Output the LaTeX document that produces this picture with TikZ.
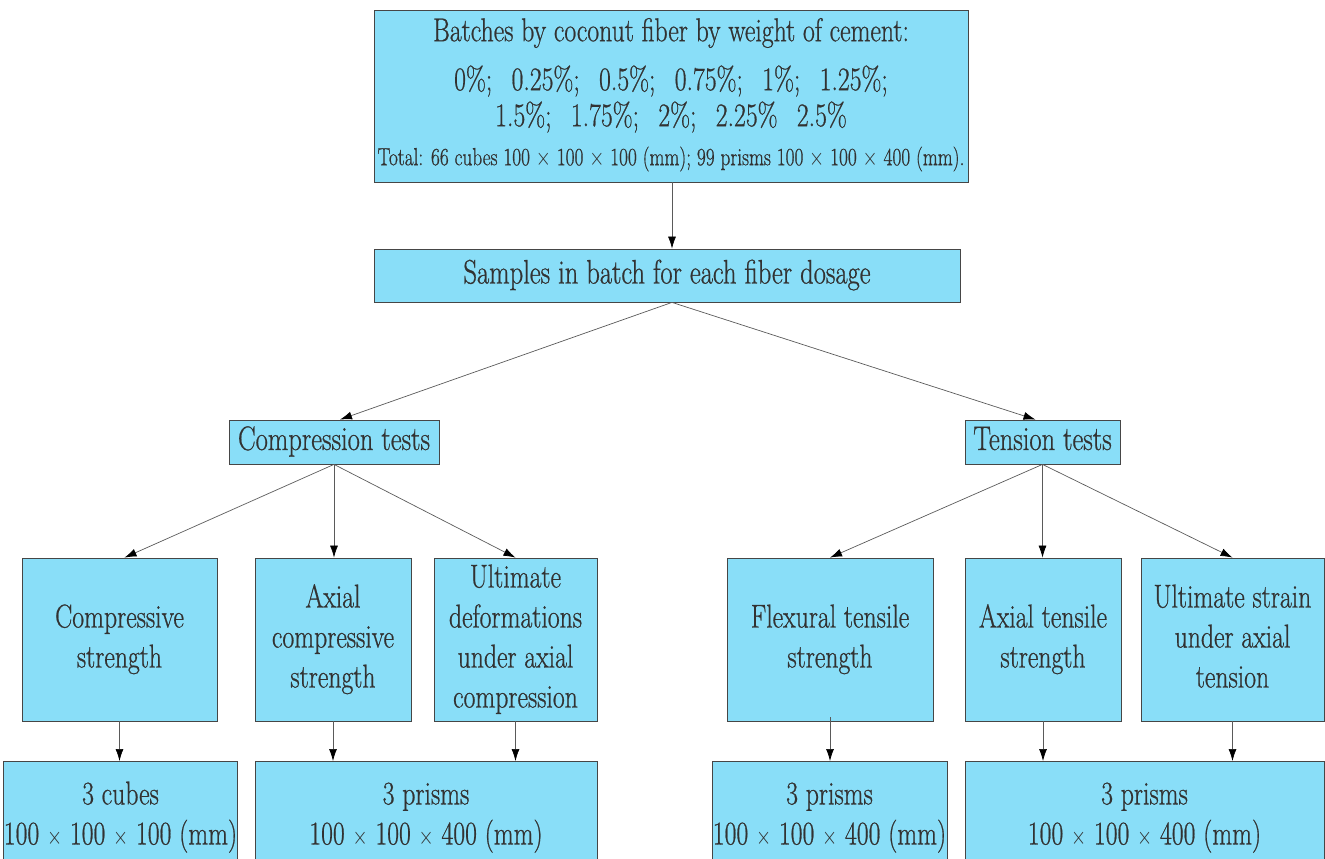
\documentclass[tikz,border=0pt]{standalone}
\usepackage{graphicx}
\usepackage{fontspec}
\newfontfamily\hv{Latin Modern Roman}[FakeBold=0.8]
\usetikzlibrary{arrows.meta}
\definecolor{boxfill}{RGB}{137,222,248}
\definecolor{boxline}{RGB}{70,70,70}
\definecolor{txt}{RGB}{50,50,50}
\definecolor{arr}{RGB}{90,90,90}
\newcommand{\sx}[1]{\scalebox{0.78}[1]{\begin{tabular}{@{}c@{}}#1\end{tabular}}}
\newcommand{\gapsp}{\hspace{0.75em}}
\tikzset{
  bx/.style={draw=boxline, fill=boxfill, line width=0.8pt, inner sep=0pt, text=txt,
    font=\hv\fontsize{33}{40}\selectfont},
  mid/.style={font=\hv\fontsize{34}{40}\selectfont},
  ar/.style={draw=arr, line width=0.7pt, -{Latex[length=12pt,width=8pt,color=black]}}
}
\begin{document}
\begin{tikzpicture}[x=1pt,y=-1pt]
\useasboundingbox (0,0) rectangle (1325,859);
\clip (0,0) rectangle (1325,859);
% top
\node[bx, minimum width=594pt, minimum height=172pt, font=\hv\fontsize{33}{36}\selectfont] (top) at (671,96)
  {\raisebox{-3pt}{\sx{Batches by coconut fiber by weight of cement:\\[13pt]
   0\%;\gapsp 0.25\%;\gapsp 0.5\%;\gapsp 0.75\%;\gapsp 1\%;\gapsp 1.25\%;\\
   1.5\%;\gapsp 1.75\%;\gapsp 2\%;\gapsp 2.25\%\gapsp 2.5\%\\[3pt]
   {\fontsize{24.8}{28}\selectfont Total: 66 cubes 100 $\times$ 100 $\times$ 100 (mm); 99 prisms 100 $\times$ 100 $\times$ 400 (mm).}}}};
\node[bx, mid, minimum width=586pt, minimum height=53pt] (samples) at (667,275.5)
  {\sx{Samples in batch for each fiber dosage}};
\node[bx, mid, minimum width=210pt, minimum height=44pt] (comp) at (334,442)
  {\sx{Compression tests}};
\node[bx, mid, minimum width=155pt, minimum height=44pt] (tens) at (1042.5,442)
  {\sx{Tension tests}};
% row 3
\node[bx, minimum width=195pt, minimum height=163pt] (cs) at (119.5,639.5) {\sx{Compressive\\strength}};
\node[bx, minimum width=156pt, minimum height=163pt] (acs) at (333,639.5) {\sx{Axial\\compressive\\strength}};
\node[bx, minimum width=163pt, minimum height=163pt] (ud) at (515.5,639.5) {\sx{Ultimate\\deformations\\under axial\\compression}};
\node[bx, minimum width=206pt, minimum height=163pt] (fts) at (830,639.5) {\sx{Flexural tensile\\strength}};
\node[bx, minimum width=156pt, minimum height=163pt] (ats) at (1043,639.5) {\sx{Axial tensile\\strength}};
\node[bx, minimum width=183pt, minimum height=163pt] (us) at (1232.5,639.5) {\sx{Ultimate strain\\under axial\\tension}};
% row 4
\node[bx, minimum width=229pt, minimum height=110pt, anchor=north] (cubes) at (120.5,761)
  {\raisebox{8pt}{\sx{3 cubes\\100 $\times$ 100 $\times$ 100 (mm)}}};
\node[bx, minimum width=342pt, minimum height=110pt, anchor=north] (p1) at (426,761)
  {\raisebox{8pt}{\sx{3 prisms\\100 $\times$ 100 $\times$ 400 (mm)}}};
\node[bx, minimum width=235pt, minimum height=110pt, anchor=north] (p2) at (829.5,761)
  {\raisebox{8pt}{\sx{3 prisms\\100 $\times$ 100 $\times$ 400 (mm)}}};
\node[bx, minimum width=359pt, minimum height=110pt, anchor=north] (p3) at (1144.5,761)
  {\raisebox{8pt}{\sx{3 prisms\\100 $\times$ 100 $\times$ 400 (mm)}}};
% connectors
\coordinate (tops) at ([xshift=1pt]top.south);
\draw[ar] (tops) -- (tops |- samples.north);
\coordinate (sams) at ([xshift=5pt]samples.south);
\draw[ar] (sams) -- ([xshift=6pt]comp.north);
\draw[ar] (sams) -- ([xshift=-7pt]tens.north);
\draw[ar] (comp.south) -- ([xshift=5pt]cs.north);
\draw[ar] (comp.south) -- (comp.south |- acs.north);
\draw[ar] (comp.south) -- (ud.north);
\draw[ar] (tens.south) -- (fts.north);
\draw[ar] (tens.south) -- (tens.south |- ats.north);
\draw[ar] (tens.south) -- (us.north);
\draw[ar] (cs.south) -- (cs.south |- cubes.north);
\draw[ar] (acs.south) -- (acs.south |- p1.north);
\draw[ar] (ud.south) -- (ud.south |- p1.north);
\draw[ar] ([yshift=4pt]fts.south) -- (fts.south |- p2.north);
\draw[ar] (ats.south) -- (ats.south |- p3.north);
\draw[ar] (us.south) -- (us.south |- p3.north);
\end{tikzpicture}
\end{document}
